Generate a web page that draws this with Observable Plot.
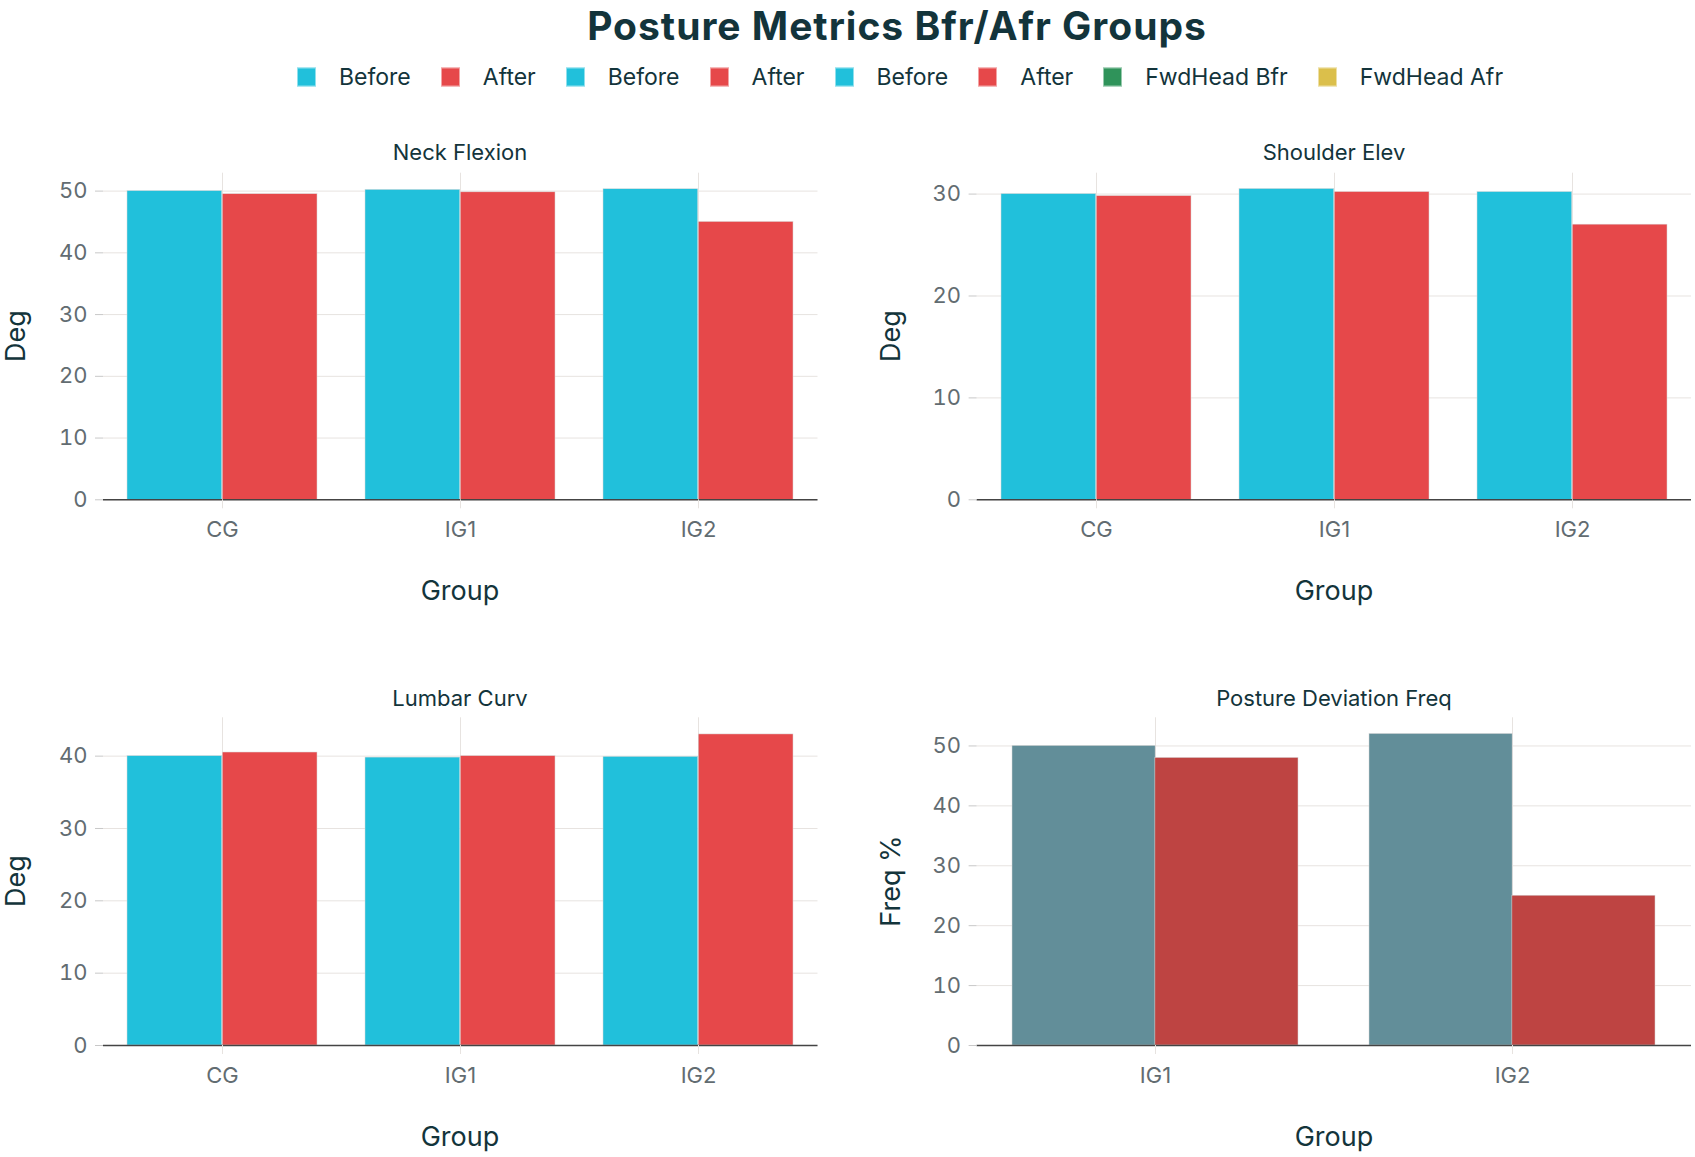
<!DOCTYPE html>
<html>
<head>
<meta charset="utf-8">
<script src="https://cdn.jsdelivr.net/npm/d3@7"></script>
<script src="https://cdn.jsdelivr.net/npm/@observablehq/plot@0.6"></script>
<style>
  body { margin: 0; background: #ffffff; font-family: Inter, "Open Sans", sans-serif; }
  #root { position: relative; width: 1695px; height: 1157px; overflow: hidden; background: #fff; }
  .abs { position: absolute; line-height: 1; white-space: nowrap; color: #13343B; }
  .ctr { transform: translate(-50%, -50%); }
  .rot { transform: translate(-50%, -50%) rotate(-90deg); }
  .legend { position: absolute; display: flex; align-items: center; line-height: 1; transform: translateY(-50%); }
  .legend .sw { width: 19px; height: 19px; margin-right: 23px; box-sizing: border-box; border: 1px solid rgba(255,255,255,0.5); }
  .legend .lb { font-size: 23px; color: #13343B; margin-right: 30px; }
  .panel { position: absolute; }
</style>
</head>
<body>
<div id="root"></div>
<script>
// ---------------- data ----------------
const chartTitle = "Posture Metrics Bfr/Afr Groups";
const legendLabels = ["Before", "After", "Before", "After", "Before", "After", "FwdHead Bfr", "FwdHead Afr"];
const legendColors = ["#21C0DB", "#E6484A", "#21C0DB", "#E6484A", "#21C0DB", "#E6484A", "#2F935A", "#DBBF4B"];

const groups = ["CG", "IG1", "IG2"];
const neckBefore = [50.0, 50.2, 50.3];
const neckAfter = [49.5, 49.8, 45.0];
const shoulderBefore = [30.0, 30.5, 30.2];
const shoulderAfter = [29.8, 30.2, 27.0];
const lumbarBefore = [40.0, 39.8, 39.9];
const lumbarAfter = [40.5, 40.0, 43.0];
const devGroups = ["IG1", "IG2"];
const devBefore = [50, 52];
const devAfter = [48, 25];

const panelTitles = ["Neck Flexion", "Shoulder Elev", "Lumbar Curv", "Posture Deviation Freq"];
const yLabels = ["Deg", "Deg", "Deg", "Freq %"];
const xLabel = "Group";
const yTicksNeck = [0, 10, 20, 30, 40, 50];
const yTicksShoulder = [0, 10, 20, 30];
const yTicksLumbar = [0, 10, 20, 30, 40];
const yTicksDev = [0, 10, 20, 30, 40, 50];
const yMaxes = [52.9, 32.05, 45.3, 54.7];

// ---------------- styles ----------------
const C_BEFORE = "#21C0DB", C_AFTER = "#E6484A";
const C_DEV_BEFORE = "#628E99", C_DEV_AFTER = "#BE4442";
const GRID = "#E7E3E0";
const TICKTEXT = "#626C71";

const root = document.getElementById("root");

function addText(txt, cls, x, y, size, weight) {
  const d = document.createElement("div");
  d.className = "abs " + cls;
  d.textContent = txt;
  d.style.left = x + "px";
  d.style.top = y + "px";
  d.style.fontSize = size + "px";
  if (weight) d.style.fontWeight = weight;
  root.appendChild(d);
  return d;
}

// title
const t = addText(chartTitle, "ctr", 897, 24.5, 39, 700);
t.style.letterSpacing = "1px";

// legend
const leg = document.createElement("div");
leg.className = "legend";
leg.style.left = "297px";
leg.style.top = "76.5px";
legendLabels.forEach((l, i) => {
  const sw = document.createElement("span");
  sw.className = "sw";
  sw.style.background = legendColors[i];
  const lb = document.createElement("span");
  lb.className = "lb";
  lb.textContent = l;
  if (i === legendLabels.length - 1) lb.style.marginRight = "0";
  leg.appendChild(sw);
  leg.appendChild(lb);
});
root.appendChild(leg);

function panel(cfg) {
  const {cats, before, after, colors, yMax, yTicks, left, top, width, height, ml, mr, mt, mb} = cfg;
  const rows = cats.map((g, i) => ({group: g, before: before[i], after: after[i]}));
  const xOpts = {type: "band", domain: cats, paddingInner: 0.2, paddingOuter: 0.1};
  const bw = Plot.scale({x: {...xOpts, range: [ml, width - mr]}}).bandwidth;
  const chart = Plot.plot({
    width, height,
    marginLeft: ml, marginRight: mr, marginTop: mt, marginBottom: mb,
    x: xOpts,
    y: {domain: [0, yMax]},
    style: {fontFamily: "Inter, 'Open Sans', sans-serif", fontSize: "22px", background: "transparent", overflow: "visible"},
    marks: [
      Plot.gridY(yTicks, {stroke: GRID, strokeOpacity: 1, strokeWidth: 1}),
      Plot.gridX({stroke: GRID, strokeOpacity: 1, strokeWidth: 1}),
      Plot.barY(rows, {x: "group", y: "before", fill: colors[0], insetRight: bw / 2, stroke: "#d8d8d8", strokeWidth: 0.5}),
      Plot.barY(rows, {x: "group", y: "after", fill: colors[1], insetLeft: bw / 2, stroke: "#d8d8d8", strokeWidth: 0.5}),
      Plot.ruleY([0], {stroke: "#444444", strokeWidth: 1.5}),
      Plot.axisY(yTicks, {tickSize: 8, tickPadding: 8, stroke: "#C8C8C8", color: TICKTEXT, fontSize: 22, label: null}),
      Plot.axisX({tickSize: 9, tickPadding: 13, stroke: GRID, color: TICKTEXT, fontSize: 22, label: null})
    ]
  });
  const wrap = document.createElement("div");
  wrap.className = "panel";
  wrap.style.left = left + "px";
  wrap.style.top = top + "px";
  wrap.appendChild(chart);
  root.appendChild(wrap);
}

const L = {left: 0, width: 850, ml: 103, mr: 32.5};
const R = {left: 850, width: 845, ml: 126.6, mr: 4};
const T = {top: 160, height: 400, mt: 12.7, mb: 60.7};
const B = {top: 705, height: 400, mt: 12.3, mb: 60};

panel({...L, ...T, cats: groups, before: neckBefore, after: neckAfter, colors: [C_BEFORE, C_AFTER], yMax: yMaxes[0], yTicks: yTicksNeck});
panel({...R, ...T, cats: groups, before: shoulderBefore, after: shoulderAfter, colors: [C_BEFORE, C_AFTER], yMax: yMaxes[1], yTicks: yTicksShoulder});
panel({...L, ...B, cats: groups, before: lumbarBefore, after: lumbarAfter, colors: [C_BEFORE, C_AFTER], yMax: yMaxes[2], yTicks: yTicksLumbar});
panel({...R, ...B, cats: devGroups, before: devBefore, after: devAfter, colors: [C_DEV_BEFORE, C_DEV_AFTER], yMax: yMaxes[3], yTicks: yTicksDev});

// panel titles
addText(panelTitles[0], "ctr", 460, 151.7, 22);
addText(panelTitles[1], "ctr", 1334, 151.7, 22);
addText(panelTitles[2], "ctr", 460, 698.3, 22);
addText(panelTitles[3], "ctr", 1334, 698.3, 22);

// axis titles
addText(yLabels[0], "rot", 15, 336, 27);
addText(yLabels[1], "rot", 890, 336, 27);
addText(yLabels[2], "rot", 15, 881, 27);
addText(yLabels[3], "rot", 890, 881, 27);
addText(xLabel, "ctr", 460, 590, 27);
addText(xLabel, "ctr", 1334, 590, 27);
addText(xLabel, "ctr", 460, 1136, 27);
addText(xLabel, "ctr", 1334, 1136, 27);
</script>
</body>
</html>
